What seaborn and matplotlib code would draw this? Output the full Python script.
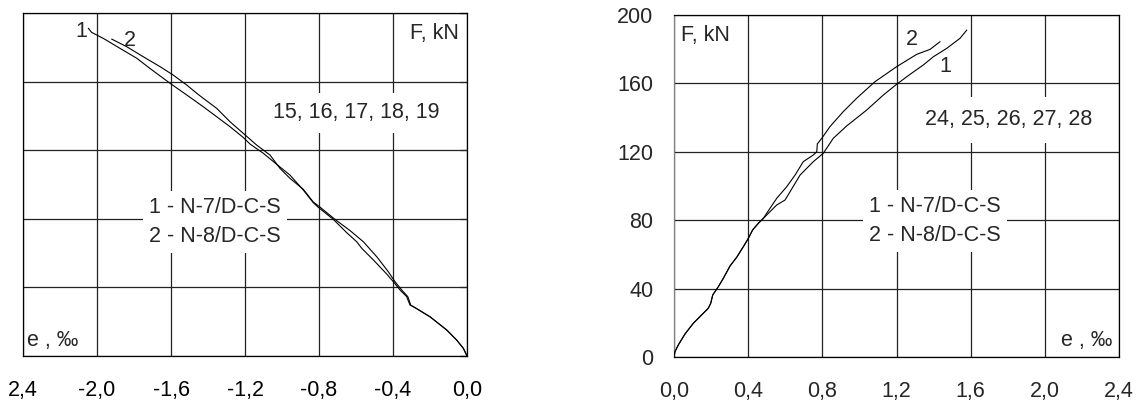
import numpy as np
import pandas as pd
import matplotlib
matplotlib.use("Agg")
import matplotlib.pyplot as plt
import seaborn as sns

# ---------------- data ----------------
# Left panel (compression strain, specimens 15-19)
left_c1_e = [-2.047, -2.029, -1.966, -1.876, -1.785, -1.714, -1.605, -1.515, -1.425,
             -1.353, -1.281, -1.209, -1.173, -1.101, -1.029, -0.957, -0.885, -0.831,
             -0.804, -0.723, -0.650, -0.596, -0.569, -0.506, -0.434, -0.398, -0.362,
             -0.326, -0.308, -0.281, -0.200, -0.110, -0.056, -0.020, 0.0]
left_c1_F = [191.1, 188.7, 185.2, 179.4, 173.6, 167.7, 159.0, 152.2, 145.3,
             139.5, 133.7, 127.4, 123.6, 118.2, 111.8, 105.5, 96.8, 89.4,
             86.7, 79.7, 71.9, 66.6, 62.8, 56.0, 47.8, 43.3, 38.5,
             34.6, 29.7, 28.2, 22.9, 15.2, 9.3, 4.5, 0.0]
left_c2_e = [-1.921, -1.840, -1.750, -1.659, -1.588, -1.515, -1.461, -1.425, -1.353,
             -1.281, -1.209, -1.137, -1.065, -1.011, -0.957, -0.885, -0.831, -0.800,
             -0.714, -0.632, -0.560, -0.488, -0.425, -0.389, -0.353, -0.320, -0.304,
             -0.278, -0.198, -0.108, -0.055, -0.019, 0.0]
left_c2_F = [184.8, 180.4, 174.5, 168.7, 163.8, 158.0, 153.2, 150.2, 144.4,
             136.6, 129.8, 123.0, 117.2, 109.4, 103.6, 97.2, 89.8, 87.3,
             79.7, 73.1, 66.6, 57.9, 49.1, 43.3, 38.5, 34.6, 29.7,
             28.0, 22.7, 15.0, 9.2, 4.4, 0.0]

# Right panel (tension strain, specimens 24-28)
right_c1_e = [0.0, 0.005, 0.023, 0.059, 0.104, 0.149, 0.185, 0.198, 0.209, 0.239,
              0.266, 0.302, 0.338, 0.374, 0.401, 0.424, 0.455, 0.482, 0.518, 0.554,
              0.599, 0.680, 0.751, 0.805, 0.859, 0.931, 1.039, 1.129, 1.201, 1.273,
              1.345, 1.399, 1.471, 1.543, 1.579]
right_c1_F = [0.0, 3.1, 7.0, 13.4, 19.7, 24.6, 28.5, 31.4, 36.3, 41.1,
              46.0, 53.2, 58.3, 64.5, 69.4, 74.3, 78.2, 81.1, 85.0, 88.9,
              91.8, 106.4, 114.2, 119.1, 127.9, 135.1, 144.4, 153.2, 159.5, 165.3,
              170.8, 175.6, 180.5, 186.4, 191.2]
right_c2_e = [0.0, 0.005, 0.023, 0.059, 0.104, 0.149, 0.185, 0.198, 0.209, 0.239,
              0.266, 0.302, 0.338, 0.374, 0.401, 0.424, 0.455, 0.482, 0.518, 0.554,
              0.608, 0.653, 0.697, 0.751, 0.770, 0.773, 0.797, 0.841, 0.913, 0.985,
              1.084, 1.201, 1.309, 1.381, 1.435]
right_c2_F = [0.0, 3.1, 7.0, 13.4, 19.7, 24.6, 28.5, 31.4, 36.3, 41.1,
              46.0, 53.2, 58.3, 64.5, 69.4, 74.3, 78.2, 81.1, 87.0, 92.8,
              99.6, 106.4, 114.2, 118.1, 120.1, 124.6, 127.9, 134.7, 143.5, 151.3,
              161.0, 169.8, 177.0, 179.9, 184.4]

left_xticks = [-2.4, -2.0, -1.6, -1.2, -0.8, -0.4, 0.0]
left_xlabels = ["2,4", "-2,0", "-1,6", "-1,2", "-0,8", "-0,4", "0,0"]
right_xticks = [0.0, 0.4, 0.8, 1.2, 1.6, 2.0, 2.4]
right_xlabels = ["0,0", "0,4", "0,8", "1,2", "1,6", "2,0", "2,4"]
yticks = [0, 40, 80, 120, 160, 200]
ylabels = ["0", "40", "80", "120", "160", "200"]

legend_text = "1 - N-7/D-C-S\n2 - N-8/D-C-S"
left_series_text = "15, 16, 17, 18, 19"
right_series_text = "24, 25, 26, 27, 28"

# ---------------- style ----------------
sns.set_style("white")
plt.rcParams["font.family"] = ["Liberation Sans", "DejaVu Sans"]
FS = 15.5

fig = plt.figure(figsize=(11.37, 4.03), dpi=100)
axL = fig.add_axes([23 / 1137, 1 - 356 / 403, 444 / 1137, 343 / 403])
axR = fig.add_axes([674 / 1137, 1 - 357 / 403, 445 / 1137, 342 / 403])


def curves_df(e1, F1, e2, F2):
    return pd.concat([
        pd.DataFrame({"e": e1, "F": F1, "curve": "1"}),
        pd.DataFrame({"e": e2, "F": F2, "curve": "2"}),
    ], ignore_index=True)


dfL = curves_df(left_c1_e, left_c1_F, left_c2_e, left_c2_F)
dfR = curves_df(right_c1_e, right_c1_F, right_c2_e, right_c2_F)

for ax, df in ((axL, dfL), (axR, dfR)):
    sns.lineplot(data=df, x="e", y="F", units="curve", estimator=None, sort=False,
                 color="black", linewidth=0.8, ax=ax, legend=False, zorder=3)
    ax.set_ylim(0, 200)
    ax.set_yticks(yticks)
    ax.grid(True, color="#222222", linewidth=0.9)
    ax.set_axisbelow(True)
    ax.set_xlabel("")
    ax.set_ylabel("")
    for s in ax.spines.values():
        s.set_color("black")
        s.set_linewidth(0.9)

# Left panel
axL.set_xlim(-2.4, 0)
axL.set_xticks(left_xticks)
axL.set_xticklabels(left_xlabels, fontsize=FS)
axL.tick_params(axis="x", direction="out", length=5, width=0.9, pad=12, colors="black")
axL.tick_params(axis="y", left=False, labelleft=False, right=True, direction="in",
                length=5, width=0.9)

# Right panel
axR.set_xlim(0, 2.4)
axR.set_xticks(right_xticks)
axR.set_xticklabels(right_xlabels, fontsize=FS)
axR.set_yticklabels(ylabels, fontsize=FS)
axR.tick_params(axis="x", direction="out", length=5, width=0.9, pad=12)
axR.tick_params(axis="y", direction="out", length=5, width=0.9, pad=10)
axR.spines["left"].set_color("#808080")

box = dict(facecolor="white", edgecolor="none", boxstyle="square,pad=0.3")

# Left annotations
axL.text(-0.043, 188.3, "F, kN", ha="right", va="center", fontsize=FS)
axL.text(-0.6, 141.7, left_series_text, ha="center", va="center", fontsize=FS,
         bbox=dict(facecolor="white", edgecolor="none", boxstyle="square,pad=0.45"), zorder=2)
axL.text(-1.362, 78.1, legend_text, ha="center", va="center", fontsize=FS,
         linespacing=1.45, multialignment="center", bbox=box, zorder=2)
axL.text(-2.085, 189.5, "1", ha="center", va="center", fontsize=FS)
axL.text(-1.822, 184.2, "2", ha="center", va="center", fontsize=FS)
axL.text(-2.378, 9.3, "e , ‰", ha="left", va="center", fontsize=FS)

# Right annotations
axR.text(0.038, 188.3, "F, kN", ha="left", va="center", fontsize=FS)
axR.text(1.807, 138.6, right_series_text, ha="center", va="center", fontsize=FS,
         bbox=dict(facecolor="white", edgecolor="none", boxstyle="square,pad=0.6"), zorder=2)
axR.text(1.408, 79.5, legend_text, ha="center", va="center", fontsize=FS,
         linespacing=1.45, multialignment="center", bbox=box, zorder=2)
axR.text(1.284, 185.4, "2", ha="center", va="center", fontsize=FS)
axR.text(1.462, 169.8, "1", ha="center", va="center", fontsize=FS)
axR.text(2.362, 9.9, "e , ‰", ha="right", va="center", fontsize=FS)

fig.savefig("out.png", dpi=100)
